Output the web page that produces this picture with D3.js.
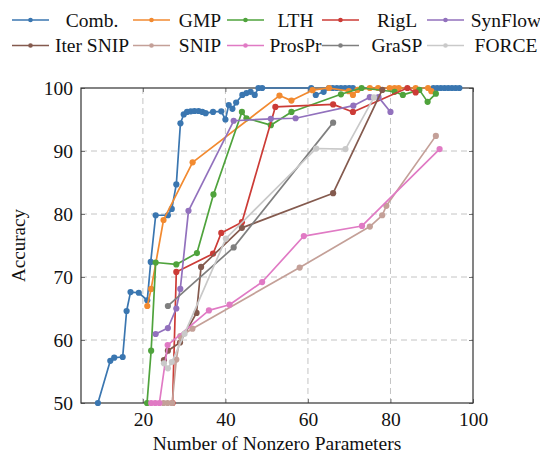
<!DOCTYPE html>
<html>
<head>
<meta charset="utf-8">
<script src="https://cdn.jsdelivr.net/npm/d3@7"></script>
<style>
  html, body { margin: 0; padding: 0; background: #fff; }
  svg { display: block; }
  text { font-family: "Liberation Serif", "DejaVu Serif", serif; fill: #111; }
</style>
</head>
<body>
<svg id="chart" width="540" height="455"></svg>
<script>
// Accuracy vs. number of nonzero parameters for each pruning method
const seriesNames = ["Comb.", "GMP", "LTH", "RigL", "SynFlow",
                     "Iter SNIP", "SNIP", "ProsPr", "GraSP", "FORCE"];
const seriesColors = ["#3a76b0", "#f28a30", "#4fa33c", "#cc3b36", "#9271bd",
                      "#845a4e", "#c4a098", "#e07ac4", "#7f7f7f", "#c9c9c9"];

const comb = [[9.1,50],[12.1,56.7],[13.05,57.2],[15.1,57.3],[16.05,64.6],[17.0,67.6],[19.0,67.5],
  [21.06,66.3],[21.9,72.4],[23.1,79.8],[26.06,79.8],[27.0,80.8],[28.1,84.7],[29.1,94.4],[29.9,95.8],
  [30.7,96.2],[31.6,96.3],[32.5,96.35],[33.5,96.35],[34.4,96.2],[35.2,96.0],[37.0,96.2],[39.0,96.3],
  [40.0,95.0],[40.8,97.3],[41.7,96.7],[42.6,97.7],[44.1,98.9],[45.1,99.2],[46.1,99.4],[47.1,98.9],
  [48.0,100],[48.9,100],[60.8,100],[61.9,98.9],[63.8,99.4],[65.1,100],[66.0,100],[67.0,100],
  [68.0,100],[69.0,100],[70.0,100],[70.9,100],[90.4,100],[91.3,100],[92.2,100],[93.1,100],
  [94.0,100],[94.9,100],[95.8,100],[96.7,100]];
const gmp = [[21.06,65.4],[22.0,68.1],[25.0,79.05],[32.05,88.2],[53.1,98.8],[56.0,98.0],[61.1,99.65],
  [65.1,100],[69.9,99.5],[70.9,98.9],[72.0,99.7],[75.0,100],[77.0,100],[79.8,100],[81.0,100],
  [82.0,100],[86.1,100],[89.1,100],[89.9,99.5]];
const lth = [[21.0,50],[22.0,58.3],[23.1,72.3],[28.1,72.0],[33.1,73.8],[37.1,83.1],[44.0,96.2],
  [45.1,95.2],[51.0,94.1],[56.0,96.2],[68.0,99.0],[73.0,100],[81.0,99.4],[83.0,98.9],[87.0,99.7],
  [89.0,97.8],[91.0,99.1]];
const rigl = [[27.2,50],[28.1,70.8],[37.0,73.7],[39.0,77.0],[44.0,78.7],[52.1,97.0],[66.1,97.4],
  [70.9,96.2],[84.1,100],[86.1,99.3]];
const synflow = [[23.1,60.95],[26.06,61.9],[28.1,65.0],[29.06,68.1],[31.05,80.5],[42.0,94.8],
  [51.0,95.1],[57.0,95.2],[71.0,97.2],[75.0,98.55],[77.1,98.55],[80.0,96.2]];
const iterSnip = [[25.1,56.8],[26.06,58.3],[29.0,59.6],[33.0,64.3],[34.1,71.6],[44.0,77.8],
  [66.1,83.3],[78.0,99.7]];
const snip = [[25.0,50],[26.0,50],[27.1,50],[28.1,56.9],[29.06,60.6],[32.0,61.8],[58.0,71.5],
  [75.0,78.0],[78.0,79.8],[79.0,81.3],[91.0,92.4]];
const prospr = [[22.0,50],[23.0,50],[24.0,50],[26.0,59.2],[36.0,64.7],[41.0,65.6],[48.9,69.2],
  [59.0,76.5],[73.1,78.1],[91.9,90.3]];
const grasp = [[26.06,65.4],[42.0,74.7],[66.1,94.5]];
const force = [[25.1,56.3],[26.06,55.5],[27.0,56.5],[30.1,61.0],[40.1,76.1],[62.0,90.4],
  [69.1,90.3],[76.0,98.5]];

const seriesData = [comb, gmp, lth, rigl, synflow, iterSnip, snip, prospr, grasp, force];

const xTicks = [20, 40, 60, 80, 100];
const yTicks = [50, 60, 70, 80, 90, 100];
const xTitle = "Number of Nonzero Parameters";
const yTitle = "Accuracy";

const svg = d3.select("#chart");
const plot = { left: 81, right: 473, top: 88, bottom: 403 };

const x = d3.scaleLinear().domain([5, 100]).range([plot.left, plot.right]);
const y = d3.scaleLinear().domain([50, 100]).range([plot.bottom, plot.top]);

// dashed grid
const grid = svg.append("g");
grid.selectAll(".gx").data(xTicks.filter(t => t < 100)).join("line")
  .attr("x1", d => x(d)).attr("x2", d => x(d))
  .attr("y1", plot.top).attr("y2", plot.bottom)
  .attr("stroke", "#c4c4c4").attr("stroke-width", 1).attr("stroke-dasharray", "6,4");
grid.selectAll(".gy").data(yTicks.filter(t => t > 50 && t < 100)).join("line")
  .attr("x1", plot.left).attr("x2", plot.right)
  .attr("y1", d => y(d)).attr("y2", d => y(d))
  .attr("stroke", "#c4c4c4").attr("stroke-width", 1).attr("stroke-dasharray", "6,4");

// axes with inward ticks
const xAxis = svg.append("g").attr("transform", `translate(0,${plot.bottom})`)
  .call(d3.axisBottom(x).tickValues(xTicks).tickSize(-4).tickPadding(9));
const xAxisTop = svg.append("g").attr("transform", `translate(0,${plot.top})`)
  .call(d3.axisTop(x).tickValues(xTicks).tickSize(-4).tickFormat(""));
const yAxis = svg.append("g").attr("transform", `translate(${plot.left},0)`)
  .call(d3.axisLeft(y).tickValues(yTicks).tickSize(-4).tickPadding(8));
const yAxisRight = svg.append("g").attr("transform", `translate(${plot.right},0)`)
  .call(d3.axisRight(y).tickValues(yTicks).tickSize(-4).tickFormat(""));

[xAxis, xAxisTop, yAxis, yAxisRight].forEach(g => {
  g.select(".domain").remove();
  g.selectAll(".tick line").attr("stroke", "#777").attr("stroke-width", 1);
  g.selectAll(".tick text").attr("font-family", "Liberation Serif, serif")
    .attr("font-size", 19.5).attr("fill", "#111");
});
xAxis.selectAll(".tick text").attr("dy", "0.71em");

// frame
svg.append("rect")
  .attr("x", plot.left).attr("y", plot.top)
  .attr("width", plot.right - plot.left).attr("height", plot.bottom - plot.top)
  .attr("fill", "none").attr("stroke", "#333").attr("stroke-width", 1.2);

// series lines and markers
const line = d3.line().x(d => x(d[0])).y(d => y(d[1]));
seriesData.forEach((data, i) => {
  const g = svg.append("g");
  g.append("path").datum(data)
    .attr("d", line).attr("fill", "none")
    .attr("stroke", seriesColors[i]).attr("stroke-width", 1.7)
    .attr("stroke-linejoin", "round");
  g.selectAll("circle").data(data).join("circle")
    .attr("cx", d => x(d[0])).attr("cy", d => y(d[1])).attr("r", 3.1)
    .attr("fill", seriesColors[i]);
});

// axis titles
svg.append("text").attr("x", (plot.left + plot.right) / 2).attr("y", 450)
  .attr("text-anchor", "middle").attr("font-size", 19.5).text(xTitle);
svg.append("text")
  .attr("transform", `translate(25,${(plot.top + plot.bottom) / 2}) rotate(-90)`)
  .attr("text-anchor", "middle").attr("font-size", 19).text(yTitle);

// legend: two rows of five entries
const legendLineX = [12, 133, 227, 322, 427];
const legendLineW = 37;
const legendTextX = [92, 200, 295.5, 397, 506];
const legendRowY = [20, 45.5];
seriesNames.forEach((name, i) => {
  const col = i % 5, row = Math.floor(i / 5);
  const ly = legendRowY[row];
  const g = svg.append("g");
  g.append("line")
    .attr("x1", legendLineX[col]).attr("x2", legendLineX[col] + legendLineW)
    .attr("y1", ly).attr("y2", ly)
    .attr("stroke", seriesColors[i]).attr("stroke-width", 1.7);
  g.append("circle").attr("cx", legendLineX[col] + legendLineW / 2).attr("cy", ly)
    .attr("r", 2.3).attr("fill", seriesColors[i]);
  g.append("text").attr("x", legendTextX[col]).attr("y", ly + 6.5)
    .attr("text-anchor", "middle").attr("font-size", 19.5).text(name);
});
</script>
</body>
</html>
